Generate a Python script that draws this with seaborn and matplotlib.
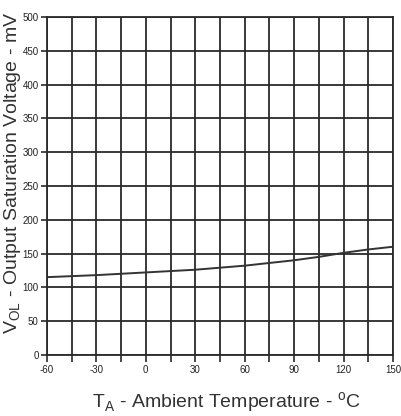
import numpy as np
import pandas as pd
import seaborn as sns
import matplotlib.pyplot as plt
from matplotlib.ticker import MultipleLocator

# curve
temp = [-60, -30, 0, 30, 60, 90, 105, 120, 135, 150]
vol = [115, 118, 122, 126, 132, 140, 145, 151, 156, 160]
x_ticks = [-60, -30, 0, 30, 60, 90, 120, 150]
y_ticks = [0, 50, 100, 150, 200, 250, 300, 350, 400, 450, 500]

df = pd.DataFrame({'T': temp, 'V': vol})

sns.set_style("white")
plt.rcParams['font.family'] = ['Liberation Sans', 'DejaVu Sans']
plt.rcParams['axes.unicode_minus'] = False
plt.rcParams['mathtext.fontset'] = 'custom'
plt.rcParams['mathtext.rm'] = 'Liberation Sans'

fig = plt.figure(figsize=(4.01, 4.16), dpi=100)
ax = fig.add_axes([0.117, 0.147, 0.863, 0.812])

sns.lineplot(data=df, x='T', y='V', color='#333333', linewidth=1.4, ax=ax)

ax.set_xlim(-60, 150)
ax.set_ylim(0, 500)
ax.set_xticks(x_ticks)
ax.set_yticks(y_ticks)
ax.xaxis.set_minor_locator(MultipleLocator(15))
ax.grid(True, which='both', color='#2a2a2a', linewidth=1.3)
for s in ax.spines.values():
    s.set_color('#2a2a2a')
    s.set_linewidth(1.3)

ax.tick_params(axis='both', which='both', direction='out', color='#2a2a2a',
               width=1.2, labelsize=7, labelcolor='#222222', pad=2,
               bottom=True, left=True)
ax.tick_params(axis='x', which='both', length=5)
ax.tick_params(axis='y', length=4)

ax.set_xlabel('T$_{\\rm A}$ - Ambient Temperature - $^{\\rm o}$C', fontsize=14,
              color='#333333')
ax.set_ylabel('V$_{\\rm OL}$ - Output Saturation Voltage - mV', fontsize=14,
              color='#333333')
ax.xaxis.set_label_coords(0.517, -0.104)
ax.yaxis.set_label_coords(-0.07, 0.54)

fig.savefig('out.png', dpi=100, facecolor='white')
